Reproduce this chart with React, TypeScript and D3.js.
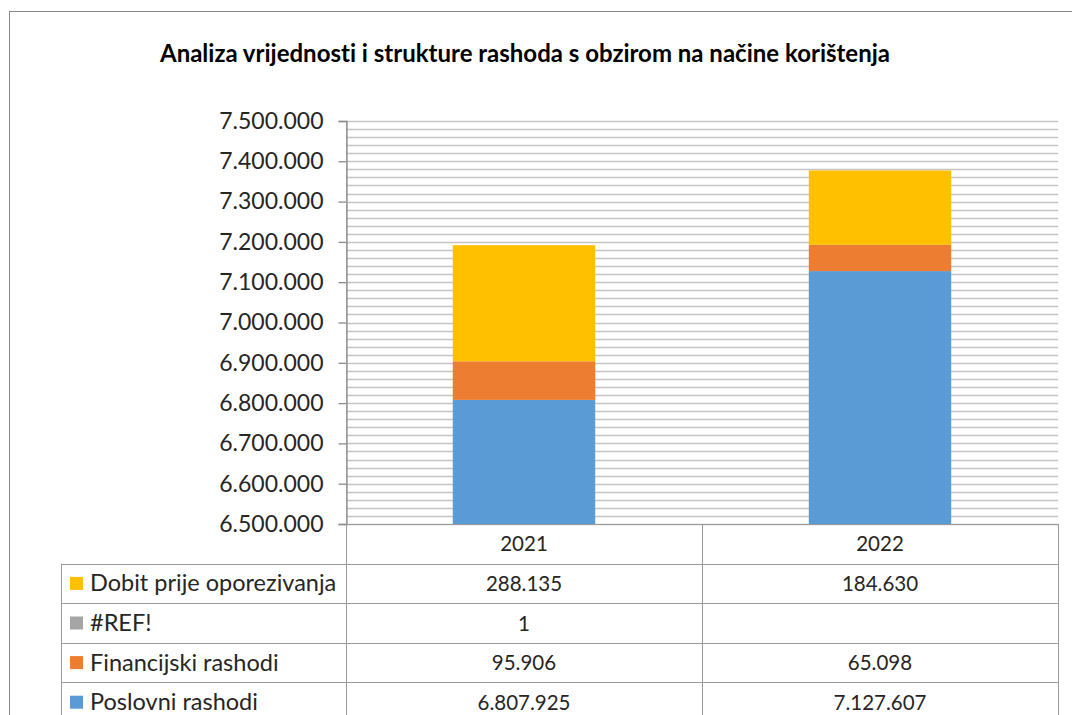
import { useEffect, useRef } from 'react';
import * as d3 from 'd3';

const years = ['2021', '2022'];
const seriesNames = ['Poslovni rashodi', 'Financijski rashodi', '#REF!', 'Dobit prije oporezivanja'];
const seriesColors = ['#5b9bd5', '#ed7d31', '#a5a5a5', '#ffc000'];
const poslovni = [6807925, 7127607];
const financijski = [95906, 65098];
const refErr: (number | null)[] = [1, null];
const dobit = [288135, 184630];
const yTicks = [6500000, 6600000, 6700000, 6800000, 6900000, 7000000, 7100000, 7200000, 7300000, 7400000, 7500000];

const title = 'Analiza vrijednosti i strukture rashoda s obzirom na načine korištenja';
const FONT = 'Lato, "Open Sans", sans-serif';

const App = () => {
  const svgRef = useRef<SVGSVGElement>(null);

  useEffect(() => {
    if (!svgRef.current) return;
    const svg = d3.select(svgRef.current);
    svg.selectAll('*').remove();

    const W = 1072;
    const H = 715;
    const plot = { left: 346, right: 1058, top: 121, bottom: 524 };
    const rowH = 39.6;

    const hr = d3.formatLocale({ decimal: ',', thousands: '.', grouping: [3], currency: ['', ' kn'] });
    const fmt = hr.format(',d');

    const values = [poslovni, financijski, refErr.map(v => v ?? 0), dobit];
    const rows = years.map((yr, i) => {
      const r: any = { year: yr };
      seriesNames.forEach((s, k) => { r[s] = values[k][i]; });
      return r;
    });
    const stacked = d3.stack<any>().keys(seriesNames)(rows);

    const x = d3.scaleBand().domain(years).range([plot.left, plot.right]).paddingInner(0.6).paddingOuter(0.3);
    const y = d3.scaleLinear().domain([6500000, 7500000]).range([plot.bottom, plot.top]);

    // chart border (runs off right/bottom edges)
    svg.append('rect')
      .attr('x', 9.5).attr('y', 11.5)
      .attr('width', W + 20).attr('height', H + 20)
      .attr('fill', '#fff').attr('stroke', '#878787').attr('stroke-width', 1);

    svg.append('text')
      .attr('x', 525).attr('y', 62)
      .attr('text-anchor', 'middle')
      .style('font-family', FONT).style('font-size', '24px').style('font-weight', 'bold')
      .style('font-variant-ligatures', 'none')
      .attr('fill', '#000')
      .text(title);

    // gridlines every 20.000
    const grid = d3.range(6500000, 7500001, 20000);
    svg.append('g').selectAll('line').data(grid).enter().append('line')
      .attr('x1', plot.left).attr('x2', plot.right)
      .attr('y1', d => Math.round(y(d)) + 0.5).attr('y2', d => Math.round(y(d)) + 0.5)
      .attr('stroke', '#c4c4c4').attr('stroke-width', 1.3);

    // bars
    const bar = svg.append('g');
    stacked.forEach((layer, k) => {
      bar.selectAll(null).data(layer).enter().append('rect')
        .attr('x', (_d, i) => x(years[i])!)
        .attr('width', x.bandwidth())
        .attr('y', d => y(Math.max(d[1], 6500000)))
        .attr('height', d => Math.max(0, y(Math.max(d[0], 6500000)) - y(Math.max(d[1], 6500000))))
        .attr('fill', seriesColors[k]);
    });

    // y axis
    const yAxis = d3.axisLeft(y).tickValues(yTicks).tickSize(8).tickFormat(d => fmt(d as number));
    const ga = svg.append('g').attr('transform', `translate(${plot.left + 0.5},0)`).call(yAxis);
    ga.select('.domain').attr('stroke', '#8c8c8c').attr('stroke-width', 1.3);
    ga.selectAll('.tick line').attr('stroke', '#8c8c8c').attr('stroke-width', 1.3);
    ga.selectAll('.tick text')
      .attr('x', -23)
      .style('font-family', FONT).style('font-size', '23px').attr('fill', '#262626');

    // data table
    const tbl = svg.append('g');
    const lineCol = '#9a9a9a';
    const tableTop = plot.bottom;
    const labelLeft = 61;
    const nRows = seriesNames.length;
    const rowTop = (j: number) => tableTop + rowH * (j + 1);
    const order = [3, 2, 1, 0];

    tbl.append('line').attr('x1', plot.left).attr('x2', plot.right)
      .attr('y1', tableTop + 0.5).attr('y2', tableTop + 0.5).attr('stroke', lineCol);
    for (let j = 0; j < nRows; j++) {
      const yy = Math.round(rowTop(j)) + 0.5;
      tbl.append('line').attr('x1', labelLeft).attr('x2', plot.right)
        .attr('y1', yy).attr('y2', yy).attr('stroke', lineCol);
    }
    const vx = [plot.left, plot.left + x.step(), plot.right];
    vx.forEach(v => {
      tbl.append('line').attr('x1', Math.round(v) + 0.5).attr('x2', Math.round(v) + 0.5)
        .attr('y1', v === plot.left ? plot.top : tableTop).attr('y2', H)
        .attr('stroke', lineCol);
    });
    tbl.append('line').attr('x1', labelLeft + 0.5).attr('x2', labelLeft + 0.5)
      .attr('y1', rowTop(0)).attr('y2', H).attr('stroke', lineCol);

    // header
    years.forEach((yr, i) => {
      tbl.append('text')
        .attr('x', plot.left + x.step() * (i + 0.5)).attr('y', tableTop + rowH / 2 + 7.5)
        .attr('text-anchor', 'middle')
        .style('font-family', FONT).style('font-size', '20.5px').attr('fill', '#262626')
        .text(yr);
    });

    order.forEach((k, j) => {
      const ty = rowTop(j) + rowH / 2 + 7.5;
      tbl.append('rect')
        .attr('x', 70).attr('y', rowTop(j) + rowH / 2 - 6.5)
        .attr('width', 13).attr('height', 13).attr('fill', seriesColors[k]);
      tbl.append('text')
        .attr('x', 90).attr('y', ty + 0.5)
        .style('font-family', FONT).style('font-size', '23.5px').attr('fill', '#262626')
        .text(seriesNames[k]);
      const raw = k === 2 ? refErr : values[k];
      years.forEach((_yr, i) => {
        const v = raw[i];
        if (v == null) return;
        tbl.append('text')
          .attr('x', plot.left + x.step() * (i + 0.5)).attr('y', ty)
          .attr('text-anchor', 'middle')
          .style('font-family', FONT).style('font-size', '20.5px').attr('fill', '#262626')
          .text(fmt(v as number));
      });
    });
  }, []);

  return (
    <svg
      ref={svgRef}
      width={1072}
      height={715}
      style={{ position: 'absolute', left: 0, top: 0, background: '#fff' }}
    />
  );
};

export default App;
